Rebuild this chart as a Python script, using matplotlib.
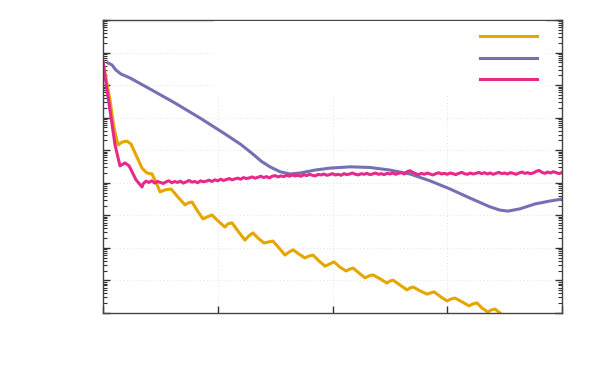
import numpy as np
import matplotlib
matplotlib.use("Agg")
import matplotlib.pyplot as plt
import matplotlib.ticker as plticker

# colours (Dark2-like, as in the reference)
YELLOW = "#e6a500"
PURPLE = "#7570b3"
PINK = "#e7298a"

# yellow series: x and log10(y)
yellow_x = [0.000, 0.061, 0.096, 0.131, 0.166, 0.209, 0.244, 0.288, 0.340, 0.383,
            0.427, 0.462, 0.497, 0.540, 0.593, 0.654, 0.715, 0.741, 0.776, 0.819,
            0.871, 0.906, 0.950, 1.002, 1.063, 1.089, 1.124, 1.176, 1.237, 1.272,
            1.307, 1.351, 1.403, 1.438, 1.481, 1.534, 1.586, 1.621, 1.656, 1.708,
            1.760, 1.795, 1.830, 1.882, 1.935, 1.978, 2.013, 2.065, 2.118, 2.152,
            2.179, 2.231, 2.283, 2.318, 2.353, 2.414, 2.475, 2.501, 2.527, 2.588,
            2.649, 2.676, 2.702, 2.763, 2.824, 2.858, 2.885, 2.946, 2.998, 3.033,
            3.068, 3.129, 3.190, 3.224, 3.259, 3.303, 3.355, 3.381, 3.416, 3.460,
            3.503]
yellow_log = [-1.29, -2.46, -3.32, -3.84, -3.75, -3.72, -3.81, -4.15, -4.55, -4.70,
              -4.73, -4.98, -5.28, -5.22, -5.19, -5.44, -5.68, -5.62, -5.59, -5.84,
              -6.11, -6.05, -5.99, -6.17, -6.36, -6.26, -6.23, -6.48, -6.76, -6.63,
              -6.54, -6.70, -6.85, -6.82, -6.79, -7.00, -7.22, -7.13, -7.06, -7.19,
              -7.31, -7.25, -7.22, -7.40, -7.56, -7.49, -7.43, -7.59, -7.71, -7.65,
              -7.62, -7.77, -7.92, -7.86, -7.83, -7.95, -8.08, -8.02, -7.99, -8.14,
              -8.29, -8.23, -8.20, -8.32, -8.42, -8.38, -8.35, -8.51, -8.63, -8.57,
              -8.54, -8.66, -8.78, -8.72, -8.69, -8.85, -8.97, -8.91, -8.88, -9.00,
              -9.15]

# purple series
purple_x = [0.044, 0.078, 0.113, 0.157, 0.235, 0.410, 0.627, 0.845, 1.063, 1.200,
            1.300, 1.380, 1.455, 1.542, 1.630, 1.717, 1.847, 1.978, 2.153, 2.327,
            2.501, 2.675, 2.850, 3.024, 3.198, 3.373, 3.460, 3.529, 3.634, 3.765,
            3.895, 4.000]
purple_log = [-1.32, -1.38, -1.54, -1.66, -1.78, -2.12, -2.55, -3.01, -3.50, -3.82,
              -4.10, -4.34, -4.51, -4.66, -4.73, -4.70, -4.61, -4.55, -4.51, -4.53,
              -4.61, -4.73, -4.94, -5.19, -5.47, -5.74, -5.84, -5.87, -5.80, -5.65,
              -5.56, -5.50]

# pink series: initial drop, then a noisy plateau
pink_head_x = [0.000, 0.061, 0.105, 0.148, 0.192, 0.227, 0.288, 0.340]
pink_head_log = [-1.29, -2.76, -3.84, -4.48, -4.39, -4.48, -4.91, -5.13]
pink_tail_log = [
    -5.03, -4.95, -4.99, -4.94, -5.01, -4.96, -4.99, -5.02, -4.97, -4.94, -5.00,
    -4.96, -4.99, -4.95, -5.01, -4.97, -4.93, -4.98, -4.96, -5.00, -4.94, -4.97,
    -4.95, -4.92, -4.96, -4.91, -4.94, -4.89, -4.93, -4.90, -4.87, -4.91, -4.88,
    -4.86, -4.89, -4.84, -4.87, -4.85, -4.82, -4.86, -4.83, -4.80, -4.84, -4.81,
    -4.85, -4.80, -4.78, -4.82, -4.79, -4.81, -4.77, -4.80, -4.76, -4.79, -4.77,
    -4.80, -4.75, -4.78, -4.74, -4.77, -4.79, -4.74, -4.76, -4.73, -4.77, -4.75,
    -4.72, -4.76, -4.74, -4.77, -4.72, -4.75, -4.73, -4.70, -4.74, -4.76, -4.72,
    -4.74, -4.71, -4.75, -4.73, -4.70, -4.74, -4.72, -4.75, -4.71, -4.73, -4.70,
    -4.74, -4.71, -4.69, -4.73, -4.66, -4.63, -4.68, -4.72, -4.75, -4.71, -4.74,
    -4.70, -4.73, -4.76, -4.72, -4.69, -4.73, -4.71, -4.74, -4.70, -4.72, -4.75,
    -4.71, -4.68, -4.72, -4.74, -4.70, -4.73, -4.71, -4.68, -4.72, -4.69, -4.73,
    -4.70, -4.74, -4.71, -4.68, -4.72, -4.70, -4.73, -4.69, -4.71, -4.74, -4.70,
    -4.67, -4.71, -4.69, -4.72, -4.70, -4.65, -4.62, -4.68, -4.71, -4.67, -4.70,
    -4.66, -4.69, -4.72, -4.68]
pink_tail_x = np.linspace(0.35, 4.0, len(pink_tail_log))

fig = plt.figure(figsize=(5.99, 3.82), dpi=100)
ax = fig.add_axes([103 / 599, 1 - 313 / 382, 459 / 599, 293 / 382])

lw = 2.2
l1, = ax.plot(yellow_x, np.power(10.0, yellow_log), color=YELLOW, lw=lw)
l2, = ax.plot(purple_x, np.power(10.0, purple_log), color=PURPLE, lw=lw)
pink_x = np.concatenate([pink_head_x, pink_tail_x])
pink_y = np.power(10.0, np.concatenate([pink_head_log, pink_tail_log]))
l3, = ax.plot(pink_x, pink_y, color=PINK, lw=lw)

ax.set_yscale("log")
ax.set_xlim(0, 4)
ax.set_ylim(1e-9, 1e0)

ax.xaxis.set_major_locator(plticker.MultipleLocator(1))
ax.yaxis.set_major_locator(plticker.LogLocator(base=10, numticks=20))
ax.yaxis.set_minor_locator(plticker.LogLocator(base=10, subs=np.arange(2, 10), numticks=20))
ax.xaxis.set_major_formatter(plticker.NullFormatter())
ax.yaxis.set_major_formatter(plticker.NullFormatter())
ax.yaxis.set_minor_formatter(plticker.NullFormatter())

ax.tick_params(which="both", direction="in", top=True, right=True, color="#333333")
ax.tick_params(which="major", length=5, width=1)
ax.tick_params(which="minor", length=3, width=0.8)
for sp in ax.spines.values():
    sp.set_color("#444444")
    sp.set_linewidth(1.0)

ax.grid(which="major", linestyle=(0, (1, 3)), color="#d8d8d8", linewidth=0.6)
ax.set_axisbelow(True)

leg = ax.legend([l1, l2, l3], [" " * 58] * 3, loc="upper right",
                bbox_to_anchor=(1.0 - 15 / 459, 1.0), markerfirst=False,
                frameon=True, fancybox=False, framealpha=1, facecolor="white",
                edgecolor="none", handlelength=4.1, handletextpad=0.3,
                labelspacing=0.55, borderpad=0.6, borderaxespad=0.1, fontsize=10)
leg.get_frame().set_linewidth(0)

fig.savefig("out.png", dpi=100)
